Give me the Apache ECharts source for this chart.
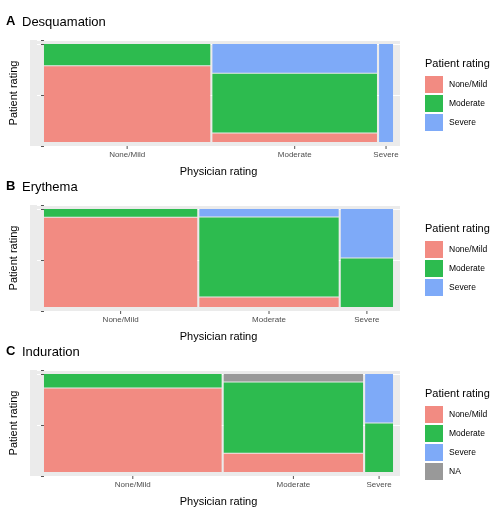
<!DOCTYPE html><html><head><meta charset="utf-8">
<script src="https://cdn.jsdelivr.net/npm/echarts@6/dist/echarts.min.js"></script>
<style>body{margin:0;background:#fff}#c{width:497px;height:518px}</style></head><body><div id="c"></div>
<script>
const physicianLevels=['None/Mild','Moderate','Severe'];
const patientLevels=['None/Mild','Moderate','Severe','NA'];
const colors=['#f28b82','#2dbb4f','#7eaaf8','#999999'];
const panelTitles=['Desquamation','Erythema','Induration'];
const panelLetters=['A','B','C'];
// column widths (share of patients by physician rating)
const desqWidths=[0.477,0.472,0.040];
const eryWidths=[0.440,0.400,0.150];
const indWidths=[0.510,0.400,0.080];
// per physician column, share of each patient rating (bottom to top)
const desqNone=[0.78,0.09,0], desqMod=[0.22,0.61,0], desqSev=[0,0.30,1], desqNA=[0,0,0];
const eryNone=[0.92,0.10,0], eryMod=[0.08,0.82,0.5], erySev=[0,0.08,0.5], eryNA=[0,0,0];
const indNone=[0.86,0.19,0], indMod=[0.14,0.73,0.5], indSev=[0,0,0.5], indNA=[0,0.08,0];
const panels=[
 {w:desqWidths,p:[desqNone,desqMod,desqSev,desqNA]},
 {w:eryWidths,p:[eryNone,eryMod,erySev,eryNA]},
 {w:indWidths,p:[indNone,indMod,indSev,indNA]}];
const tops=[40,205,370], H=106;
const grids=[],xAxes=[],yAxes=[],series=[],graphic=[];
const gx=0.006, gy=0.01;
panels.forEach((pn,i)=>{
  grids.push({left:30,width:370,top:tops[i],height:H});
  xAxes.push({gridIndex:i,type:'value',min:-0.02,max:1.02,axisLabel:{show:false},axisTick:{show:false},axisLine:{show:false},
    splitLine:{show:false},name:'Physician rating',nameLocation:'middle',nameGap:20,nameTextStyle:{fontSize:11,color:'#000'}});
  yAxes.push({gridIndex:i,type:'value',min:-0.04,max:1.04,interval:0.52,axisLabel:{show:false},axisTick:{show:true,length:3,lineStyle:{color:'#555'}},
    axisLine:{show:false},splitLine:{show:true,lineStyle:{color:'#fff',width:1}},splitArea:{show:false},
    name:'Patient rating',nameLocation:'middle',nameGap:18,nameTextStyle:{fontSize:11,color:'#000'}});
  graphic.push({type:'rect',shape:{x:30,y:tops[i],width:370,height:H},style:{fill:'#ebebeb'},z:-10});
  graphic.push({type:'text',left:6,top:tops[i]-25,style:{text:panelLetters[i],font:'bold 13px Liberation Sans',fill:'#000'}});
  graphic.push({type:'text',left:22,top:tops[i]-24,style:{text:panelTitles[i],font:'13px Liberation Sans',fill:'#000'}});
  const usable=1-gx*2; const rects=[], labels=[];
  let x=0;
  pn.w.forEach((w,c)=>{
    const ww=w/pn.w.reduce((a,b)=>a+b,0)*usable;
    const segs=patientLevels.map((l,k)=>[k,pn.p[k][c]]).filter(s=>s[1]>0);
    const uy=1-gy*(segs.length-1); let y=0;
    const tot=segs.reduce((a,s)=>a+s[1],0);
    segs.forEach(s=>{const h=s[1]/tot*uy; rects.push([x,x+ww,y,y+h,s[0]]); y+=h+gy;});
    labels.push([x+ww/2,physicianLevels[c]]);
    x+=ww+gx;
  });
  series.push({type:'custom',xAxisIndex:i,yAxisIndex:i,data:rects,renderItem:(p,api)=>{
    const a=api.coord([api.value(0),api.value(2)]),b=api.coord([api.value(1),api.value(3)]);
    return {type:'rect',shape:{x:a[0],y:b[1],width:b[0]-a[0],height:a[1]-b[1]},style:{fill:colors[api.value(4)]}};}});
  series.push({type:'custom',xAxisIndex:i,yAxisIndex:i,clip:false,data:labels.map(l=>[l[0],-0.04,l[1]]),renderItem:(p,api)=>{
    const a=api.coord([api.value(0),api.value(1)]);
    return {type:'group',children:[
      {type:'line',shape:{x1:a[0],y1:a[1],x2:a[0],y2:a[1]+3},style:{stroke:'#555',lineWidth:1}},
      {type:'text',x:a[0],y:a[1]+5,style:{text:labels[p.dataIndex][1],align:'center',verticalAlign:'top',font:'8px Liberation Sans',fill:'#4d4d4d'}}]};}});
  // legend
  const ly=tops[i]+18, n=i===2?4:3;
  graphic.push({type:'text',left:425,top:ly,style:{text:'Patient rating',font:'11px Liberation Sans',fill:'#000'}});
  for(let k=0;k<n;k++){
    graphic.push({type:'rect',shape:{x:425,y:ly+18+k*19,width:18,height:17},style:{fill:colors[k]}});
    graphic.push({type:'text',left:449,top:ly+22+k*19,style:{text:patientLevels[k],font:'8.5px Liberation Sans',fill:'#000'}});
  }
});
const ch=echarts.init(document.getElementById('c'));
ch.setOption({animation:false,grid:grids,xAxis:xAxes,yAxis:yAxes,series,graphic});
</script></body></html>
